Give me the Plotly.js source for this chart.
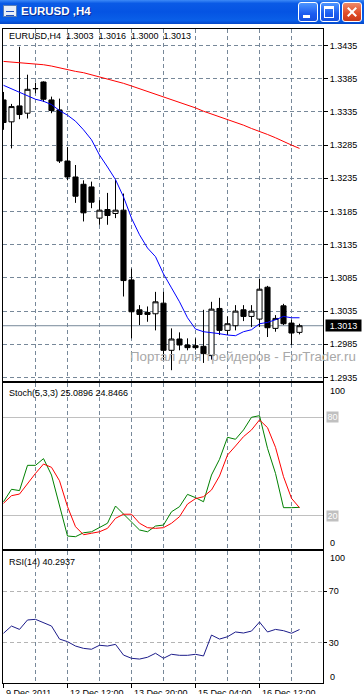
<!DOCTYPE html>
<html><head><meta charset="utf-8">
<script src="https://cdn.plot.ly/plotly-3.0.1.min.js"></script>
<style>
html,body{margin:0;padding:0;background:#fff;width:364px;height:694px;overflow:hidden;}
#tb{position:absolute;left:0;top:0;width:364px;height:24px;z-index:5;
 background:linear-gradient(#3d8af7 0%,#0a5ae6 14%,#0554e3 50%,#0a5fe8 85%,#0346c9 100%);}
#ico{position:absolute;left:3px;top:5px;width:14px;height:12px;background:#e8eef8;border:1px solid #5a7fb8;box-sizing:border-box;}
#ico:after{content:"";position:absolute;left:2px;top:5px;width:8px;height:3px;border-top:1px solid #2050c0;border-bottom:1px solid #2050c0;}
#ttl{position:absolute;left:21px;top:5px;color:#fff;font:bold 11.5px "Liberation Sans",Arial,sans-serif;text-shadow:1px 1px 0 #0a2a90;white-space:pre;}
.btn{position:absolute;top:2px;width:20px;height:20px;border:1px solid #fff;border-radius:3px;box-sizing:border-box;
 background:linear-gradient(#4d96ff,#1b5cf0 60%,#1650e0);}
#bmin{left:298px;}#bmax{left:320px;}#bcls{left:342px;background:linear-gradient(#f08a6a,#e04a25 60%,#c8391a);}
#bmin:after{content:"";position:absolute;left:4px;top:12px;width:7px;height:3px;background:#fff;}
#bmax:after{content:"";position:absolute;left:3px;top:3px;width:8px;height:8px;border:1px solid #fff;border-top-width:3px;}
#bcls:before,#bcls:after{content:"";position:absolute;left:3px;top:8px;width:12px;height:2px;background:#fff;transform:rotate(45deg);}
#bcls:after{transform:rotate(-45deg);}
#plot{position:absolute;left:0;top:0;width:364px;height:694px;}
</style></head>
<body>
<div id="plot"></div>
<div id="tb"><div id="ico"></div><span id="ttl">EURUSD ,H4</span>
<div class="btn" id="bmin"></div><div class="btn" id="bmax"></div><div class="btn" id="bcls"></div></div>
<script>
// H4 bar times (index = bar position)
const times = ["09 Dec 04:00","09 Dec 08:00","09 Dec 12:00","09 Dec 16:00","09 Dec 20:00","12 Dec 00:00","12 Dec 04:00","12 Dec 08:00",
"12 Dec 12:00","12 Dec 16:00","12 Dec 20:00","13 Dec 00:00","13 Dec 04:00","13 Dec 08:00","13 Dec 12:00","13 Dec 16:00",
"13 Dec 20:00","14 Dec 00:00","14 Dec 04:00","14 Dec 08:00","14 Dec 12:00","14 Dec 16:00","14 Dec 20:00","15 Dec 00:00",
"15 Dec 04:00","15 Dec 08:00","15 Dec 12:00","15 Dec 16:00","15 Dec 20:00","16 Dec 00:00","16 Dec 04:00","16 Dec 08:00",
"16 Dec 12:00","16 Dec 16:00","16 Dec 20:00","19 Dec 00:00","19 Dec 04:00","19 Dec 08:00"];
const openP  = [1.3353,1.3320,1.3344,1.3333,1.3370,1.3380,1.3353,1.3338,1.3261,1.3237,1.3226,1.3222,1.3175,1.3188,1.3182,1.3187,1.3082,1.3037,1.3033,1.3031,1.3047,1.2976,1.2993,1.2984,1.2983,1.2982,1.2968,1.3039,1.3006,1.3013,1.3037,1.3027,1.3023,1.3071,1.3009,1.3043,1.3017,1.3003];
const highP  = [1.3365,1.3347,1.3433,1.3391,1.3379,1.3381,1.3358,1.3355,1.3282,1.3255,1.3232,1.3230,1.3202,1.3213,1.3233,1.3212,1.3099,1.3044,1.3042,1.3064,1.3064,1.3009,1.3003,1.2994,1.2994,1.3037,1.3049,1.3055,1.3027,1.3044,1.3044,1.3044,1.3084,1.3073,1.3029,1.3046,1.3022,1.3016];
const lowP   = [1.3308,1.3280,1.3324,1.3325,1.3363,1.3350,1.3333,1.3258,1.3232,1.3198,1.3170,1.3190,1.3165,1.3165,1.3175,1.3057,1.2994,1.3014,1.3019,1.3006,1.2962,1.2946,1.2976,1.2976,1.2977,1.2957,1.2962,1.2999,1.2999,1.3006,1.3020,1.3011,1.3011,1.2996,1.3004,1.3014,1.2984,1.3000];
const closeP = [1.3319,1.3343,1.3331,1.3369,1.3370,1.3354,1.3337,1.3261,1.3237,1.3208,1.3183,1.3199,1.3187,1.3179,1.3187,1.3081,1.3034,1.3030,1.3030,1.3049,1.2976,1.2993,1.2984,1.2980,1.2980,1.2971,1.3038,1.3006,1.3016,1.3035,1.3027,1.3035,1.3068,1.3010,1.3024,1.3016,1.3002,1.3013];
const maSlow = [1.3411,1.3410,1.3409,1.3409,1.3408,1.3406,1.3404,1.3401,1.3399,1.3396,1.3394,1.3391,1.3388,1.3385,1.3382,1.3378,1.3374,1.3370,1.3366,1.3362,1.3357,1.3353,1.3349,1.3345,1.3341,1.3336,1.3332,1.3327,1.3323,1.3319,1.3315,1.3310,1.3306,1.3301,1.3296,1.3290,1.3285,1.3280];
const maFast = [1.3375,1.3370,1.3364,1.3359,1.3354,1.3351,1.3346,1.3337,1.3330,1.3321,1.3308,1.3293,1.3270,1.3252,1.3233,1.3207,1.3175,1.3150,1.3130,1.3117,1.3091,1.3070,1.3049,1.3025,1.3008,1.3004,1.3003,1.3001,1.2999,1.2998,1.3004,1.3007,1.3016,1.3018,1.3022,1.3027,1.3025,1.3025];
const stochK = [28.5,36.1,35.3,50.7,50.7,54.8,44.8,25.5,7.6,7.2,9.6,10.2,12.7,15.4,25.9,21.0,16.3,11.3,10.2,13.7,14.3,22.4,25.5,33.0,31.0,28.5,44.8,54.4,67.8,66.6,72.3,80.0,81.0,61.1,45.8,24.9,24.9,25.0896];
const stochD = [27.6,32.2,33.2,39.8,45.8,51.5,49.5,41.3,25.5,13.3,8.4,9.3,10.2,12.3,18.4,20.9,20.9,15.4,12.7,12.3,12.7,15.4,19.4,27.1,30.4,31.6,35.7,44.2,57.0,62.5,68.2,72.3,78.4,73.7,61.7,43.8,30.6,24.8466];
const rsi    = [37.4,43.0,40.4,47.7,48.2,45.6,43.0,32.9,30.9,27.5,25.7,25.0,28.1,27.5,28.8,20.5,18.0,17.4,18.8,21.9,18.0,21.1,20.3,20.3,21.1,19.8,36.0,32.9,34.7,38.4,37.6,39.1,46.1,38.4,40.4,39.4,37.4,40.2937];
const priceTicks = [1.2935,1.2985,1.3035,1.3085,1.3135,1.3185,1.3235,1.3285,1.3335,1.3385,1.3435];
const gridBars = [4,8,12,16,20,24,28,32,36];
const labelBars = [0,8,16,24,32];
const dateLabels = ["9 Dec 2011","12 Dec 12:00","13 Dec 20:00","15 Dec 04:00","16 Dec 12:00"];
const stochLevels = [20,80];
const rsiLevels = [30,70];

const idx = times.map((t,i)=>i);
const last = closeP.length-1;
const FONT = "Liberation Sans, Arial, sans-serif";
const GRID = "#778899", DASH = "4px,3px";

const traces = [
 {type:"candlestick", x:idx, open:openP, high:highP, low:lowP, close:closeP, xaxis:"x", yaxis:"y",
  increasing:{line:{color:"#000",width:1}, fillcolor:"#fff"},
  decreasing:{line:{color:"#000",width:1}, fillcolor:"#000"}, whiskerwidth:0, hoverinfo:"none"},
 {type:"scatter", mode:"lines", x:idx, y:maSlow, xaxis:"x", yaxis:"y", line:{color:"#ff0000",width:1}},
 {type:"scatter", mode:"lines", x:idx, y:maFast, xaxis:"x", yaxis:"y", line:{color:"#0000ff",width:1}},
 {type:"scatter", mode:"lines", x:idx, y:stochK, xaxis:"x2", yaxis:"y2", line:{color:"#008000",width:1}},
 {type:"scatter", mode:"lines", x:idx, y:stochD, xaxis:"x2", yaxis:"y2", line:{color:"#ff0000",width:1}},
 {type:"scatter", mode:"lines", x:idx, y:rsi, xaxis:"x3", yaxis:"y3", line:{color:"#1c1c8a",width:1}}
];

const xr = [-0.0625, 39.9375];
function xax(anchor){ return {anchor:anchor, range:xr, tickvals:gridBars, showticklabels:false, ticks:"",
  showgrid:true, gridcolor:GRID, griddash:DASH, gridwidth:1, showline:true, mirror:true, linecolor:"#000", linewidth:1,
  zeroline:false, rangeslider:{visible:false}, fixedrange:true}; }
const x3 = xax("y3");
x3.minor = {tickvals:labelBars, ticks:"outside", ticklen:4, tickcolor:"#000", showgrid:false};

const lab = {family:FONT, size:9, color:"#000"};
const pxX = v => 1 + v/320;
const annotations = [
 {xref:"paper", yref:"paper", x:0.0116, y:0.9898, xanchor:"left", yanchor:"middle", showarrow:false, font:lab,
  text:"EURUSD,H4&nbsp;&nbsp;"+openP[last].toFixed(4)+"&nbsp;&nbsp;"+highP[last].toFixed(4)+"&nbsp;&nbsp;"+lowP[last].toFixed(4)+"&nbsp;&nbsp;"+closeP[last].toFixed(4)},
 {xref:"paper", yref:"paper", x:0.0116, y:0.443, xanchor:"left", yanchor:"middle", showarrow:false, font:lab,
  text:"Stoch(5,3,3) "+stochK[last].toFixed(4)+" "+stochD[last].toFixed(4)},
 {xref:"paper", yref:"paper", x:0.0116, y:0.1855, xanchor:"left", yanchor:"middle", showarrow:false, font:lab,
  text:"RSI(14) "+rsi[last].toFixed(4)},
 {xref:"paper", yref:"paper", x:1.1094, y:0.5, xanchor:"right", yanchor:"middle", showarrow:false,
  font:{family:FONT, size:13.3, color:"#a8a8a8"}, text:"Портал для трейдеров - ForTrader.ru"},
 {xref:"paper", yref:"y", x:pxX(2), y:closeP[last], xanchor:"left", yanchor:"middle", showarrow:false,
  bgcolor:"#000", font:{family:FONT,size:9,color:"#fff"}, text:closeP[last].toFixed(4), width:35, height:11, borderpad:0},
 {xref:"paper", yref:"paper", x:pxX(5), y:0.4469, xanchor:"left", yanchor:"middle", showarrow:false, font:lab, text:"100"},
 {xref:"paper", yref:"paper", x:pxX(5), y:0.2145, xanchor:"left", yanchor:"middle", showarrow:false, font:lab, text:"0"},
 {xref:"paper", yref:"paper", x:pxX(5), y:0.1907, xanchor:"left", yanchor:"middle", showarrow:false, font:lab, text:"100"},
 {xref:"paper", yref:"paper", x:pxX(5), y:0.0096, xanchor:"left", yanchor:"middle", showarrow:false, font:lab, text:"0"}
];
stochLevels.forEach(v => annotations.push({xref:"paper", yref:"y2", x:pxX(3), y:v, xanchor:"left", yanchor:"middle",
  showarrow:false, bgcolor:"#c0c0c0", font:{family:FONT,size:9,color:"#fff"}, text:String(v), width:11, height:10, borderpad:0}));
labelBars.forEach((b,i) => annotations.push({xref:"x3", yref:"paper", x:b, y:0, xanchor:"left", yanchor:"top",
  yshift:-3, showarrow:false, font:lab, text:dateLabels[i]}));

const layout = {
 width:364, height:694, margin:{l:3, r:41, t:29, b:11}, paper_bgcolor:"#fff", plot_bgcolor:"#fff",
 showlegend:false, font:{family:FONT, size:9, color:"#000"}, boxgap:0.2, boxgroupgap:0.2,
 xaxis:xax("y"), xaxis2:Object.assign(xax("y2"),{matches:"x"}), xaxis3:Object.assign(x3,{matches:"x"}),
 yaxis:{domain:[0.4622,1], anchor:"x", side:"right", range:[1.29302,1.34598], tickvals:priceTicks, tickformat:".4f",
  ticks:"outside", ticklen:4, tickcolor:"#000", showgrid:true, gridcolor:GRID, griddash:DASH,
  showline:true, mirror:true, linecolor:"#000", linewidth:1, zeroline:false, fixedrange:true},
 yaxis2:{domain:[0.2049,0.4592], anchor:"x2", side:"right", range:[-0.3,101.1], tickvals:stochLevels, showticklabels:false,
  ticks:"", showgrid:true, gridcolor:"#c0c0c0", griddash:"solid", showline:true, mirror:true, linecolor:"#000", linewidth:1, zeroline:false},
 yaxis3:{domain:[0,0.2018], anchor:"x3", side:"right", range:[-1.16,101.16], tickvals:rsiLevels,
  ticks:"outside", ticklen:3, tickcolor:"#000", showgrid:true, gridcolor:"#b4b4b4", griddash:DASH,
  showline:true, mirror:true, linecolor:"#000", linewidth:1, zeroline:false},
 shapes:[{type:"line", xref:"paper", yref:"y", x0:0, x1:1, y0:closeP[last], y1:closeP[last], line:{color:GRID, width:1}, layer:"below"}],
 annotations:annotations
};
Plotly.newPlot("plot", traces, layout, {staticPlot:true, displayModeBar:false});
</script>
</body></html>
